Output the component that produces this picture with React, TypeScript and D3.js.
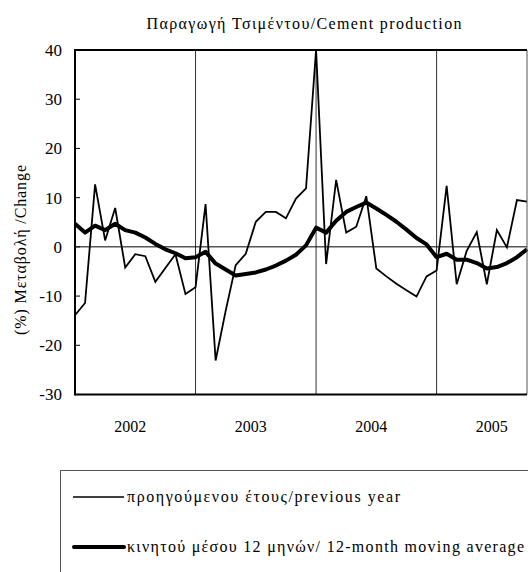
import React from "react";
import * as d3 from "d3";

const years = ["2002", "2003", "2004", "2005"];
const yTicks = [-30, -20, -10, 0, 10, 20, 30, 40];

// monthly, Jan 2002 .. Oct 2005
const previousYear = [
  -13.9, -11.4, 12.7, 1.3, 7.9, -4.2, -1.5, -1.9, -7.1, -4.3, -1.5, -9.6,
  -8.2, 8.7, -23.1, -13.0, -3.7, -1.4, 5.1, 7.1, 7.1, 5.8, 9.8, 11.9,
  40, -3.5, 13.6, 2.9, 4.1, 10.3, -4.4, -6.0, -7.5, -8.8, -10.1, -6.0,
  -4.8, 12.4, -7.6, -0.8, 3.0, -7.6, 3.4, -0.1, 9.5, 9.2,
];
const movingAverage = [
  4.7, 2.9, 4.3, 3.4, 4.7, 3.4, 2.9, 1.9, 0.6, -0.5, -1.3, -2.3,
  -2.1, -1.0, -3.4, -4.6, -5.8, -5.5, -5.2, -4.6, -3.8, -2.8, -1.6, 0.3,
  3.9, 2.9, 5.3, 7.1, 8.1, 9.0, 7.8, 6.5, 5.1, 3.5, 1.8, 0.5,
  -2.1, -1.4, -2.6, -2.6, -3.3, -4.4, -4.1, -3.3, -2.1, -0.5,
];

const title = "Παραγωγή Τσιμέντου/Cement production";
const yLabel = "(%) Μεταβολή /Change";
const legend1 = "προηγούμενου έτους/previous year";
const legend2 = "κινητού μέσου 12 μηνών/ 12-month moving average";

const FONT = "'Liberation Serif', 'Times New Roman', Times, 'DejaVu Serif', serif";

export default function App() {
  const left = 75;
  const right = 527;
  const top = 50;
  const bottom = 394.5;
  const n = previousYear.length;
  const x = d3.scaleLinear().domain([0, n - 1]).range([left, right]);
  const y = d3.scaleLinear().domain([-30, 40]).range([bottom, top]);
  const line = d3
    .line<number>()
    .x((_, i) => x(i))
    .y((d) => y(d));
  const ts = { fontFamily: FONT };

  return (
    <svg
      width={528}
      height={572}
      style={{ position: "absolute", left: 0, top: 0, background: "#fff", fontFamily: FONT }}
    >
      <rect x={0} y={0} width={528} height={572} fill="#fff" />
      <text style={ts} x={304} y={29} fontSize={16} textAnchor="middle" textLength={315} lengthAdjust="spacing">
        {title}
      </text>

      {/* year gridlines */}
      {[12, 24, 36].map((m) => (
        <line key={m} x1={x(m)} x2={x(m)} y1={top} y2={bottom} stroke="#333" strokeWidth={1} />
      ))}
      {/* zero line */}
      <line x1={left} x2={right} y1={y(0)} y2={y(0)} stroke="#000" strokeWidth={1} />

      {/* lines */}
      <path d={line(previousYear) || ""} fill="none" stroke="#000" strokeWidth={1.8} strokeLinejoin="miter" />
      <path d={line(movingAverage) || ""} fill="none" stroke="#000" strokeWidth={4} strokeLinejoin="round" />

      {/* frame */}
      <line x1={right} x2={right} y1={top} y2={bottom} stroke="#555" strokeWidth={1} />
      <line x1={left} x2={right} y1={top} y2={top} stroke="#000" strokeWidth={2} />
      <line x1={left} x2={right} y1={bottom} y2={bottom} stroke="#000" strokeWidth={2} />
      <line x1={left} x2={left} y1={top - 1} y2={bottom + 1} stroke="#000" strokeWidth={2} />

      {/* y ticks */}
      {yTicks.map((t) => (
        <g key={t}>
          <line x1={left} x2={left + 5} y1={y(t)} y2={y(t)} stroke="#000" strokeWidth={1} />
          <text style={ts} x={62} y={y(t)} dy="0.35em" fontSize={17} textAnchor="end">
            {t}
          </text>
        </g>
      ))}

      {/* x labels */}
      {years.map((yr, k) => (
        <text style={ts} key={yr} x={x(k * 12 + 5.5)} y={432} fontSize={16} textAnchor="middle">
          {yr}
        </text>
      ))}

      {/* y label */}
      <text
        style={ts}
        transform={`translate(26,250) rotate(-90)`}
        fontSize={16}
        textAnchor="middle"
        textLength={170}
        lengthAdjust="spacing"
      >
        {yLabel}
      </text>

      {/* legend */}
      <rect x={60.5} y={470.5} width={500} height={140} fill="none" stroke="#555" strokeWidth={1} />
      <line x1={73} x2={124} y1={497} y2={497} stroke="#000" strokeWidth={1.6} />
      <text style={ts} x={127} y={502} fontSize={16} textLength={273} lengthAdjust="spacing">
        {legend1}
      </text>
      <line x1={74} x2={124} y1={547} y2={547} stroke="#000" strokeWidth={4} strokeLinecap="round" />
      <text style={ts} x={127} y={552} fontSize={16} textLength={397} lengthAdjust="spacing">
        {legend2}
      </text>
    </svg>
  );
}
